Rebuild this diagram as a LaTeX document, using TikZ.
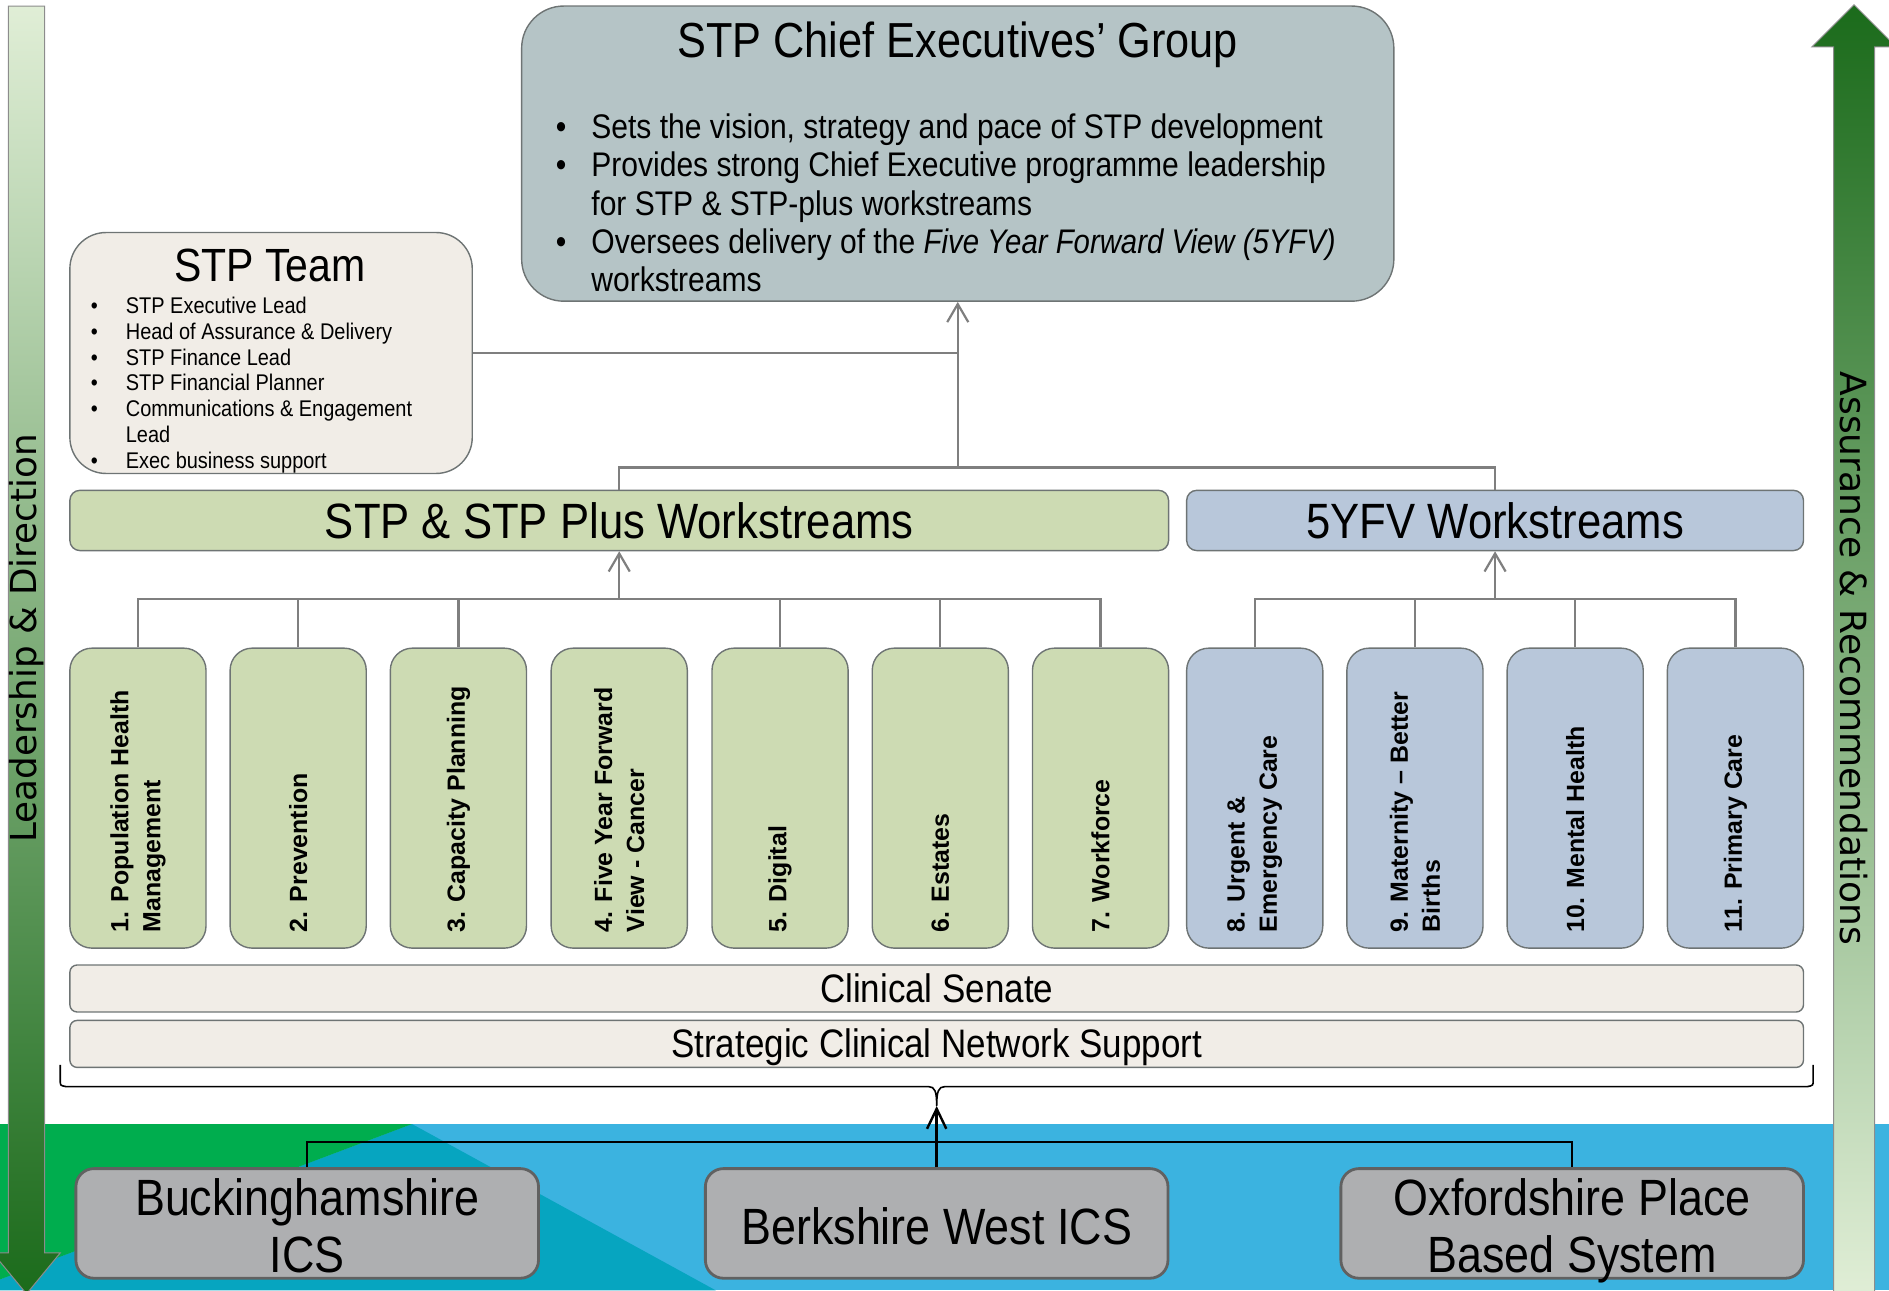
\documentclass[tikz,border=0pt]{standalone}
\usepackage{fontspec}
\setmainfont{Liberation Sans}
\newfontfamily\nar[FakeStretch=0.88]{Liberation Sans}
\newfontfamily\narit[FakeStretch=0.86]{Liberation Sans Italic}
\newfontfamily\verd{DejaVu Sans}
\usetikzlibrary{arrows.meta}
\definecolor{cegfill}{HTML}{B5C4C6}
\definecolor{teamfill}{HTML}{F1EDE7}
\definecolor{greenbox}{HTML}{CDDBB3}
\definecolor{bluebox}{HTML}{B8C7DA}
\definecolor{greybox}{HTML}{AEAFB1}
\definecolor{boxline}{HTML}{6E7474}
\definecolor{connline}{HTML}{7F7F7F}
\definecolor{bandblue}{HTML}{3BB3E0}
\definecolor{bandteal}{HTML}{06A5C0}
\definecolor{bandgreen}{HTML}{00AD4E}
\definecolor{arrlight}{HTML}{E0EED6}
\definecolor{arrmid}{HTML}{7FAE60}
\definecolor{arrdark}{HTML}{1B6B1B}
\begin{document}
\begin{tikzpicture}[x=0.6pt,y=-0.6pt,
  rbox/.style={draw=boxline, line width=0.7pt, inner sep=0pt},
  childbox/.style={rbox, rounded corners=11pt, minimum width=67.8pt, minimum height=149.4pt},
  greenc/.style={childbox, fill=greenbox},
  bluec/.style={childbox, fill=bluebox},
  childtxt/.style={rotate=90, anchor=west, align=left, inner sep=0pt,
     font=\fontsize{12.4}{16}\selectfont\bfseries},
  wide/.style={rbox, fill=teamfill, rounded corners=3.6pt, minimum width=863.4pt, minimum height=23.4pt,
     text height=16pt, text depth=2pt, font=\nar\fontsize{19.8}{22}\selectfont},
  bottombox/.style={draw=black!62, line width=1.4pt, fill=greybox, rounded corners=9pt,
     minimum width=230.4pt, minimum height=54.6pt},
  bottomtxt/.style={align=center, inner sep=0pt, font=\nar\fontsize{25.4}{28.2}\selectfont},
  conn/.style={draw=connline, line width=1.1pt},
  blk/.style={draw=black, line width=1.2pt},
  garr/.style={-{Straight Barb[length=9pt,width=10.5pt,line width=1.1pt]}},
  barr/.style={-{Straight Barb[length=10pt,width=9.6pt,line width=1.2pt]}},
]
\useasboundingbox (0,0) rectangle (1568,1071);

% bottom band
\fill[bandblue] (0,933) rectangle (1568,1071);
\fill[bandteal] (342,933) -- (594,1071) -- (0,1071) -- (0,1062) -- cycle;
\fill[bandgreen] (0,933) -- (342,933) -- (0,1062) -- cycle;

% side arrows
\shade[top color=arrlight, middle color=arrmid, bottom color=arrdark]
  (7,5) -- (37,5) -- (37,1040) -- (50,1040) -- (22,1074) -- (-6,1040) -- (7,1040) -- cycle;
\draw[draw=black!45, line width=0.5pt]
  (7,5) -- (37,5) -- (37,1040) -- (50,1040) -- (22,1074) -- (-6,1040) -- (7,1040) -- cycle;
\node[rotate=90, font=\verd\fontsize{17.8}{20}\selectfont, inner sep=0pt] (lead) at (22,530) {Leadership \& Direction};

\shade[top color=arrdark, middle color=arrmid, bottom color=arrlight]
  (1522,1075) -- (1522,39) -- (1504,39) -- (1539,4) -- (1574,39) -- (1556,39) -- (1556,1075) -- cycle;
\draw[draw=black!45, line width=0.5pt]
  (1522,1075) -- (1522,39) -- (1504,39) -- (1539,4) -- (1574,39) -- (1556,39) -- (1556,1075) -- cycle;
\node[rotate=-90, font=\verd\fontsize{17.95}{20}\selectfont, inner sep=0pt] (assur) at (1539,546.5) {Assurance \& Recommendations};

% Chief Executives' Group
\node[rbox, fill=cegfill, rounded corners=21pt, minimum width=434.4pt, minimum height=147pt] (ceg) at (795,127.5) {};
\node[anchor=base, font=\nar\fontsize{24.5}{28}\selectfont, inner sep=0pt] (cegt) at (795,48) {STP Chief Executives’ Group};
\node[anchor=base west, inner sep=0pt, font=\nar\fontsize{17}{19.1}\selectfont] (cegl) at (461,115) {%
  \begin{tabular}[t]{@{}l@{\hspace{12.5pt}}l@{}}
  \textbullet & Sets the vision, strategy and pace of STP development\\
  \textbullet & Provides strong Chief Executive programme leadership\\
   & for STP \& STP-plus workstreams\\
  \textbullet & Oversees delivery of the {\narit Five Year Forward View (5YFV)}\\
   & workstreams
  \end{tabular}};

% STP Team
\node[rbox, fill=teamfill, rounded corners=18pt, minimum width=200.4pt, minimum height=120pt] (team) at (225,293) {};
\node[anchor=base, font=\nar\fontsize{23.2}{26}\selectfont, inner sep=0pt] (teamt) at (224,234) {STP Team};
\node[anchor=base west, inner sep=0pt, font=\nar\fontsize{11.3}{12.8}\selectfont] (teaml) at (75,260.5) {%
  \begin{tabular}[t]{@{}l@{\hspace{14pt}}l@{}}
  \textbullet & STP Executive Lead\\
  \textbullet & Head of Assurance \& Delivery\\
  \textbullet & STP Finance Lead\\
  \textbullet & STP Financial Planner\\
  \textbullet & Communications \& Engagement\\
   & Lead\\
  \textbullet & Exec business support
  \end{tabular}};

% workstream bars
\node[rbox, fill=greenbox, rounded corners=5pt, minimum width=547.2pt, minimum height=30pt,
  font=\nar\fontsize{24.7}{28}\selectfont] (stpbar) at (514,432) {STP \& STP Plus Workstreams};
\node[rbox, fill=bluebox, rounded corners=5pt, minimum width=307.2pt, minimum height=30pt,
  font=\nar\fontsize{24.7}{28}\selectfont] (fyfvbar) at (1241,432) {5YFV Workstreams};

% child boxes
\node[greenc] (c1) at (114.5,662.5) {};
\node[greenc] (c2) at (247.5,662.5) {};
\node[greenc] (c3) at (380.5,662.5) {};
\node[greenc] (c4) at (514,662.5) {};
\node[greenc] (c5) at (647.5,662.5) {};
\node[greenc] (c6) at (780.5,662.5) {};
\node[greenc] (c7) at (913.5,662.5) {};
\node[bluec] (c8) at (1041.5,662.5) {};
\node[bluec] (c9) at (1174.5,662.5) {};
\node[bluec] (c10) at (1307.5,662.5) {};
\node[bluec] (c11) at (1440.5,662.5) {};

\node[childtxt] (t1) at (114.5,774) {1. Population Health\\Management};
\node[childtxt] (t2) at (247.5,774) {2. Prevention};
\node[childtxt] (t3) at (380.5,774) {3. Capacity Planning};
\node[childtxt] (t4) at (514,774) {4. Five Year Forward\\View - Cancer};
\node[childtxt] (t5) at (647.5,774) {5. Digital};
\node[childtxt] (t6) at (780.5,774) {6. Estates};
\node[childtxt] (t7) at (913.5,774) {7. Workforce};
\node[childtxt] (t8) at (1041.5,774) {8. Urgent \&\\Emergency Care};
\node[childtxt] (t9) at (1174.5,774) {9. Maternity – Better\\Births};
\node[childtxt] (t10) at (1307.5,774) {10. Mental Health};
\node[childtxt] (t11) at (1440.5,774) {11. Primary Care};

% senate / network
\node[wide] (senate) at (777.5,820.5) {Clinical Senate};
\node[wide] (scn) at (777.5,866.5) {Strategic Clinical Network Support};

% bottom boxes
\node[bottombox] (buck) at (255,1015.5) {};
\node[bottombox] (berk) at (777.5,1015.5) {};
\node[bottombox] (oxf) at (1305,1015.5) {};
\node[bottomtxt, anchor=base] (buckt) at (255,1056) {Buckinghamshire\\ICS};
\node[bottomtxt] (berkt) at (777.5,1018) {Berkshire West ICS};
\node[bottomtxt, anchor=base] (oxft) at (1305,1056) {Oxfordshire Place\\Based System};

% connectors top
\coordinate (hub) at (795,388);
\draw[conn] (stpbar.north) |- (hub) -| (fyfvbar.north);
\draw[conn] (team.east) -- (team.east -| hub);
\draw[conn, garr] (hub) -- (ceg.south);

\coordinate (h1) at (514,497);
\foreach \c in {c1,c2,c3,c5,c6,c7} \draw[conn] (\c.north) |- (h1);
\draw[conn, garr] (h1) -- (stpbar.south);

\coordinate (h2) at (1241,497);
\foreach \c in {c8,c9,c10,c11} \draw[conn] (\c.north) |- (h2);
\draw[conn, garr] (h2) -- (fyfvbar.south);

% brace
\coordinate (btip) at (777.5,918);
\draw[black, line width=0.8pt] (50,884) -- (50,897) .. controls (50,901) .. (55,902)
   -- (771,902) .. controls (776,902) and (777.5,906) .. (btip)
   .. controls (777.5,906) and (779,902) .. (784,902)
   -- (1500,902) .. controls (1505,901) .. (1505,897) -- (1505,884);

% connectors bottom
\coordinate (h3) at (777.5,948);
\draw[blk] (buck.north) |- (h3) -| (oxf.north);
\draw[blk, barr] (berk.north) -- (btip);
\end{tikzpicture}
\end{document}
